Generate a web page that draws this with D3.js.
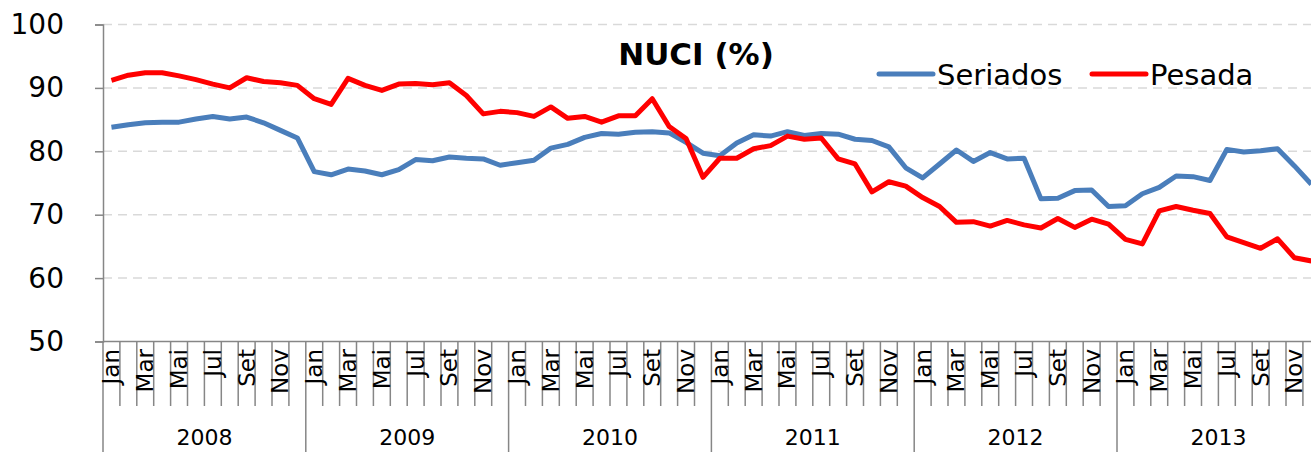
<!DOCTYPE html>
<html>
<head>
<meta charset="utf-8">
<script src="https://cdn.jsdelivr.net/npm/d3@7"></script>
<style>
  body { margin: 0; background: #fff; }
  svg text { font-family: "DejaVu Sans", Verdana, sans-serif; fill: #000; }
</style>
</head>
<body>
<div class="viz"></div>
<script>
var years = ["2008", "2009", "2010", "2011", "2012", "2013"];
var months = ["Jan", "Fev", "Mar", "Abr", "Mai", "Jun", "Jul", "Ago", "Set", "Out", "Nov", "Dez"];
var yTicks = [50, 60, 70, 80, 90, 100];

var seriados = [
  83.8, 84.2, 84.5, 84.6, 84.6, 85.1, 85.5, 85.1, 85.4, 84.5, 83.3, 82.1,
  76.8, 76.3, 77.2, 76.9, 76.3, 77.1, 78.7, 78.5, 79.1, 78.9, 78.8, 77.8,
  78.2, 78.6, 80.5, 81.1, 82.2, 82.8, 82.7, 83.0, 83.1, 82.9, 81.4, 79.7,
  79.3, 81.3, 82.6, 82.4, 83.1, 82.5, 82.8, 82.7, 81.9, 81.7, 80.7, 77.4,
  75.8, 78.0, 80.2, 78.4, 79.8, 78.8, 78.9, 72.5, 72.6, 73.8, 73.9, 71.3,
  71.4, 73.3, 74.3, 76.1, 76.0, 75.4, 80.3, 79.9, 80.1, 80.4, 77.7, 74.8
];
var pesada = [
  91.2, 92.0, 92.4, 92.4, 91.9, 91.3, 90.6, 90.0, 91.6, 91.0, 90.8, 90.4,
  88.3, 87.4, 91.5, 90.4, 89.6, 90.6, 90.7, 90.5, 90.8, 88.8, 85.9, 86.3,
  86.1, 85.5, 87.0, 85.2, 85.5, 84.6, 85.6, 85.6, 88.3, 83.9, 82.0, 75.9,
  78.9, 78.9, 80.4, 80.9, 82.4, 81.9, 82.1, 78.8, 78.0, 73.6, 75.2, 74.5,
  72.7, 71.3, 68.8, 68.9, 68.2, 69.1, 68.4, 67.9, 69.4, 68.0, 69.3, 68.5,
  66.1, 65.4, 70.6, 71.3, 70.7, 70.2, 66.5, 65.6, 64.7, 66.2, 63.2, 62.7
];

var chartW = 1311, chartH = 452,
    plotLeft = 103, monthW = 16.9,
    plotTop = 24.5, plotBottom = 341.5;

var axisColor = "#868686", gridColor = "#d9d9d9";
var blue = "#4a7ebb", red = "#ff0000";

var idx = d3.range(years.length * 12);

var x = d3.scaleBand()
  .domain(idx)
  .range([plotLeft, plotLeft + monthW * idx.length]);

var y = d3.scaleLinear()
  .domain([50, 100])
  .range([plotBottom, plotTop]);

var svg = d3.select(".viz").append("svg")
  .attr("width", chartW)
  .attr("height", chartH);

// gridlines
svg.append("g").selectAll("line")
  .data(yTicks.filter(function(d) { return d > 50; }))
  .enter().append("line")
  .attr("x1", plotLeft).attr("x2", chartW)
  .attr("y1", function(d) { return y(d); })
  .attr("y2", function(d) { return y(d); })
  .attr("stroke", gridColor)
  .attr("stroke-width", 1.5)
  .attr("stroke-dasharray", "9,6");

// y axis
var yAxis = svg.append("g")
  .attr("transform", "translate(" + plotLeft + ",0)")
  .call(d3.axisLeft(y).tickValues(yTicks).tickSize(8).tickPadding(31));
yAxis.select(".domain").attr("stroke", axisColor).attr("stroke-width", 1.5);
yAxis.selectAll(".tick line").attr("stroke", axisColor).attr("stroke-width", 1.5);
yAxis.selectAll(".tick text")
  .attr("font-size", 28)
  .attr("font-family", "DejaVu Sans, Verdana, sans-serif")
  .attr("fill", "#000");

// y axis line goes down to the bottom of the category area
svg.append("line")
  .attr("x1", plotLeft).attr("x2", plotLeft)
  .attr("y1", plotBottom).attr("y2", chartH)
  .attr("stroke", axisColor).attr("stroke-width", 1.5);

// x axis line
svg.append("line")
  .attr("x1", plotLeft).attr("x2", x.range()[1])
  .attr("y1", plotBottom).attr("y2", plotBottom)
  .attr("stroke", axisColor).attr("stroke-width", 1.5);

// month ticks, year separators run to the bottom
svg.append("g").selectAll("line")
  .data(idx.slice(1))
  .enter().append("line")
  .attr("x1", function(d) { return x(d); })
  .attr("x2", function(d) { return x(d); })
  .attr("y1", plotBottom)
  .attr("y2", function(d) { return d % 12 == 0 ? chartH : 406; })
  .attr("stroke", axisColor)
  .attr("stroke-width", 1.5);

// month labels (every other month)
svg.append("g").selectAll("text")
  .data(idx.filter(function(d) { return d % 2 == 0; }))
  .enter().append("text")
  .attr("transform", function(d) {
    return "translate(" + (x(d) + x.bandwidth() / 2 + 8) + "," + 349 + ") rotate(-90)";
  })
  .attr("text-anchor", "end")
  .attr("font-size", 23)
  .text(function(d) { return months[d % 12]; });

// year labels
svg.append("g").selectAll("text")
  .data(years)
  .enter().append("text")
  .attr("x", function(d, i) { return x(i * 12) + monthW * 6; })
  .attr("y", 445)
  .attr("text-anchor", "middle")
  .attr("font-size", 22)
  .text(function(d) { return d; });

// series lines
var line = d3.line()
  .x(function(d, i) { return x(i) + x.bandwidth() / 2; })
  .y(function(d) { return y(d); });

svg.append("path")
  .datum(seriados)
  .attr("d", line)
  .attr("fill", "none")
  .attr("stroke", blue)
  .attr("stroke-width", 5)
  .attr("stroke-linejoin", "round");

svg.append("path")
  .datum(pesada)
  .attr("d", line)
  .attr("fill", "none")
  .attr("stroke", red)
  .attr("stroke-width", 5)
  .attr("stroke-linejoin", "round");

// title
svg.append("text")
  .attr("x", 696)
  .attr("y", 65)
  .attr("text-anchor", "middle")
  .attr("font-size", 31)
  .attr("font-weight", "bold")
  .text("NUCI (%)");

// legend
var legend = [
  {name: "Seriados", color: blue, x: 879},
  {name: "Pesada", color: red, x: 1092}
];
var lg = svg.append("g").selectAll("g")
  .data(legend)
  .enter().append("g")
  .attr("transform", function(d) { return "translate(" + d.x + ",74)"; });
lg.append("line")
  .attr("x1", 0).attr("x2", 54)
  .attr("stroke", function(d) { return d.color; })
  .attr("stroke-width", 5)
  .attr("stroke-linecap", "round");
lg.append("text")
  .attr("x", 58)
  .attr("y", 11)
  .attr("font-size", 29)
  .text(function(d) { return d.name; });
</script>
</body>
</html>
